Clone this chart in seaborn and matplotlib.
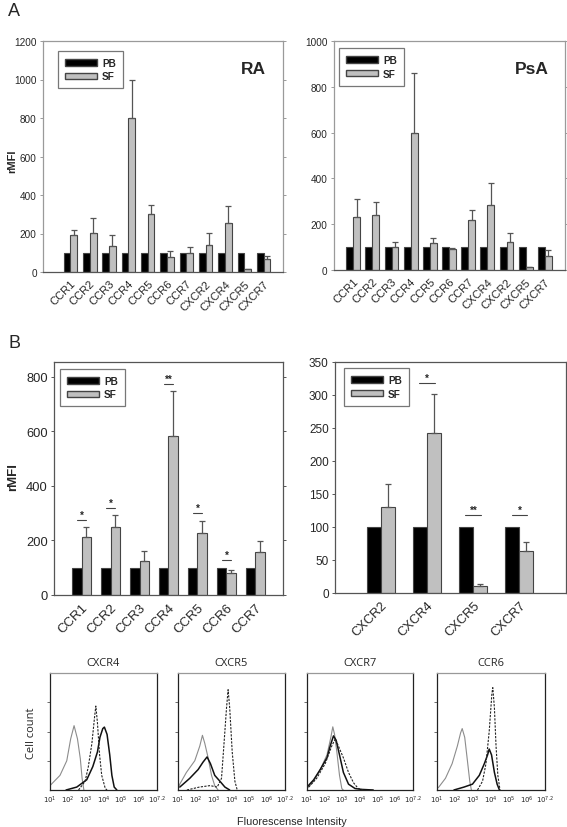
import numpy as np
import matplotlib.pyplot as plt
import pandas as pd
import seaborn as sns
from matplotlib.patches import Patch

sns.set_style('white')
plt.rcParams['font.family'] = ['Liberation Sans', 'DejaVu Sans']

# ---- panel A, RA ----
ra_names = ['CCR1', 'CCR2', 'CCR3', 'CCR4', 'CCR5', 'CCR6', 'CCR7', 'CXCR2', 'CXCR4', 'CXCR5', 'CXCR7']
ra_pb = [100] * 11
ra_sf = [192, 204, 135, 800, 303, 78, 99, 140, 253, 15, 66]
ra_sf_top = [218, 279, 192, 1000, 350, 107, 130, 203, 345, 17, 82]

# ---- panel A, PsA ----
psa_names = ['CCR1', 'CCR2', 'CCR3', 'CCR4', 'CCR5', 'CCR6', 'CCR7', 'CXCR4', 'CXCR2', 'CXCR5', 'CXCR7']
psa_pb = [100] * 11
psa_sf = [231, 241, 101, 600, 120, 92, 217, 285, 123, 12, 61]
psa_sf_top = [309, 296, 121, 860, 140, 98, 261, 380, 163, 14, 88]

# ---- panel B, CCR ----
ccr_names = ['CCR1', 'CCR2', 'CCR3', 'CCR4', 'CCR5', 'CCR6', 'CCR7']
ccr_pb = [100] * 7
ccr_sf = [211, 248, 124, 582, 226, 81, 157]
ccr_sf_top = [248, 292, 161, 750, 270, 93, 199]
ccr_sig = ['*', '*', '', '**', '*', '*', '']
ccr_sig_y = [276, 321, 0, 776, 300, 130, 0]

# ---- panel B, CXCR ----
cxcr_names = ['CXCR2', 'CXCR4', 'CXCR5', 'CXCR7']
cxcr_pb = [100] * 4
cxcr_sf = [131, 243, 11, 64]
cxcr_sf_top = [165, 301, 14, 77]
cxcr_sig = ['', '*', '**', '*']
cxcr_sig_y = [0, 318, 118, 118]

# ---- histograms (x = log10 intensity, y = cell count units) ----
hist_titles = ['CXCR4', 'CXCR5', 'CXCR7', 'CCR6']
gray_x = [[1.0, 1.56, 1.94, 2.16, 2.35, 2.54, 2.7, 2.8, 2.9],
          [1.0, 1.1, 1.47, 1.94, 2.22, 2.37, 2.5, 2.69, 2.88, 3.06, 3.25],
          [1.0, 1.38, 1.75, 2.13, 2.35, 2.46, 2.56, 2.69, 2.84, 2.97, 3.05],
          [1.0, 1.1, 1.47, 1.84, 2.13, 2.31, 2.4, 2.54, 2.69, 2.82, 2.91]]
gray_y = [[0.15, 0.5, 1.0, 1.75, 2.2, 1.75, 1.07, 0.4, 0.0],
          [0.05, 0.2, 0.6, 1.0, 1.5, 1.87, 1.6, 1.1, 0.5, 0.15, 0.0],
          [0.05, 0.3, 0.7, 1.2, 1.8, 2.16, 1.9, 1.3, 0.5, 0.05, 0.0],
          [0.05, 0.1, 0.4, 0.9, 1.5, 1.95, 2.1, 1.8, 1.0, 0.3, 0.0]]
dash_x = [[2.6, 2.97, 3.15, 3.35, 3.5, 3.57, 3.66, 3.78, 3.9, 4.1, 4.2],
          [1.5, 2.2, 2.8, 3.2, 3.44, 3.57, 3.72, 3.81, 3.9, 4.04, 4.19, 4.32],
          [1.1, 1.55, 2.03, 2.4, 2.6, 2.78, 3.06, 3.35, 3.63, 3.9, 4.2],
          [3.25, 3.53, 3.72, 3.9, 4.05, 4.1, 4.19, 4.28, 4.38, 4.5]]
dash_y = [[0.0, 0.3, 0.8, 1.6, 2.5, 2.87, 2.3, 1.2, 0.5, 0.05, 0.0],
          [0.0, 0.1, 0.15, 0.1, 0.4, 1.5, 2.8, 3.43, 2.8, 1.3, 0.3, 0.0],
          [0.1, 0.4, 0.9, 1.5, 1.75, 1.5, 1.1, 0.6, 0.25, 0.05, 0.0],
          [0.0, 0.3, 0.9, 2.0, 3.3, 3.5, 2.8, 1.5, 0.5, 0.0]]
black_x = [[1.9, 2.5, 3.06, 3.4, 3.66, 3.8, 3.96, 4.05, 4.2, 4.35, 4.47, 4.6, 4.75],
           [1.1, 1.66, 2.13, 2.4, 2.63, 2.82, 3.06, 3.35, 3.63, 3.9],
           [1.0, 1.38, 1.75, 2.13, 2.31, 2.5, 2.65, 2.84, 3.06, 3.35, 3.72, 4.1, 4.75],
           [1.94, 2.5, 2.97, 3.35, 3.63, 3.81, 3.9, 4.03, 4.19, 4.34, 4.47]]
black_y = [[0.0, 0.1, 0.35, 0.8, 1.3, 1.8, 2.1, 2.15, 1.9, 1.2, 0.5, 0.1, 0.0],
           [0.1, 0.4, 0.7, 0.95, 1.13, 0.9, 0.5, 0.3, 0.1, 0.0],
           [0.1, 0.35, 0.7, 1.1, 1.5, 1.85, 1.7, 1.2, 0.6, 0.2, 0.05, 0.02, 0.0],
           [0.0, 0.1, 0.2, 0.5, 0.9, 1.2, 1.4, 1.2, 0.6, 0.2, 0.0]]
hist_ticks = [1, 2, 3, 4, 5, 6, 7]
hist_ticklabels = ['$10^1$', '$10^2$', '$10^3$', '$10^4$', '$10^5$', '$10^6$', '$10^{7.2}$']

PB_COLOR = 'black'
SF_COLOR = '#c0c0c0'


def bar_panel(ax, names, pb, sf, sf_top, width, spine_color, tick_size, xlab_size):
    n = len(names)
    df = pd.DataFrame({'receptor': names * 2,
                       'group': ['PB'] * n + ['SF'] * n,
                       'rMFI': pb + sf})
    sns.barplot(data=df, x='receptor', y='rMFI', hue='group', order=names,
                hue_order=['PB', 'SF'], palette={'PB': PB_COLOR, 'SF': SF_COLOR},
                width=width, errorbar=None, edgecolor='#444444', linewidth=0.8,
                saturation=1, legend=False, ax=ax)
    sf_bars = ax.containers[1]
    xs = [b.get_x() + b.get_width() / 2 for b in sf_bars]
    err = np.array(sf_top) - np.array(sf)
    ax.errorbar(xs, sf, yerr=[np.zeros(n), err], fmt='none', ecolor='#555555',
                elinewidth=0.9, capsize=2.3, capthick=0.9)
    for s in ax.spines.values():
        s.set_color(spine_color)
        s.set_linewidth(0.9)
    ax.set_xlabel('')
    ax.set_ylabel('')
    ax.tick_params(axis='y', left=True, right=True, length=2.5, width=0.7,
                   color=spine_color, labelsize=tick_size, pad=2)
    ax.tick_params(axis='x', bottom=False, labelsize=xlab_size, pad=1)
    plt.setp(ax.get_xticklabels(), rotation=45, ha='right', rotation_mode='anchor')
    leg = ax.legend(handles=[Patch(facecolor=PB_COLOR, edgecolor='#444444'),
                             Patch(facecolor=SF_COLOR, edgecolor='#444444')],
                    labels=['PB', 'SF'], frameon=True, fancybox=False,
                    edgecolor='#555555', handlelength=3.2, handleheight=0.6,
                    prop={'weight': 'bold', 'size': 7.2}, borderpad=0.7,
                    labelspacing=0.35, handletextpad=0.5, loc='upper left',
                    borderaxespad=0)
    leg.get_frame().set_linewidth(0.9)
    return leg


def sig_marks(ax, sig, sig_y, size):
    for i, (s, y) in enumerate(zip(sig, sig_y)):
        if s:
            ax.plot([i - 0.17, i + 0.17], [y, y], color='#444444', lw=0.8)
            ax.text(i, y, s, ha='center', va='bottom', fontsize=size, fontweight='bold')


fig = plt.figure(figsize=(5.67, 8.28), dpi=100)
W, H = 567, 828


def px_axes(x0, y0, x1, y1):
    return fig.add_axes([x0 / W, 1 - y1 / H, (x1 - x0) / W, (y1 - y0) / H])


# A - RA
ax1 = px_axes(43, 42, 283, 273)
leg = bar_panel(ax1, ra_names, ra_pb, ra_sf, ra_sf_top, 0.7, '#9a9a9a', 7.2, 8.0)
leg.set_bbox_to_anchor((0.0625, 0.957))
ax1.set_xlim(-1.42, 11.0)
ax1.set_ylim(0, 1200)
ax1.set_yticks(range(0, 1201, 200))
ax1.spines['bottom'].set_color('#555555')
ax1.text(0.93, 0.88, 'RA', transform=ax1.transAxes, ha='right', va='center',
         fontsize=12.5, fontweight='bold')

# A - PsA
ax2 = px_axes(334, 42, 565, 271)
leg = bar_panel(ax2, psa_names, psa_pb, psa_sf, psa_sf_top, 0.72, '#9a9a9a', 7.2, 8.0)
leg.set_bbox_to_anchor((0.022, 0.969))
ax2.set_xlim(-1.0, 11.05)
ax2.set_ylim(0, 1000)
ax2.set_yticks(range(0, 1001, 200))
ax2.spines['bottom'].set_color('#555555')
ax2.text(0.93, 0.88, 'PsA', transform=ax2.transAxes, ha='right', va='center',
         fontsize=12.5, fontweight='bold')

# B - CCR
ax3 = px_axes(54, 363, 283, 596)
leg = bar_panel(ax3, ccr_names, ccr_pb, ccr_sf, ccr_sf_top, 0.66, '#555555', 9.3, 9.5)
leg.set_bbox_to_anchor((0.026, 0.97))
ax3.set_xlim(-0.95, 6.95)
ax3.set_ylim(0, 855)
ax3.set_yticks(range(0, 801, 200))
sig_marks(ax3, ccr_sig, ccr_sig_y, 7)

# B - CXCR
ax4 = px_axes(335, 363, 565.5, 594)
leg = bar_panel(ax4, cxcr_names, cxcr_pb, cxcr_sf, cxcr_sf_top, 0.61, '#555555', 8.5, 9.3)
leg.set_bbox_to_anchor((0.039, 0.974))
ax4.set_xlim(-1.0, 4.0)
ax4.set_ylim(0, 350)
ax4.set_yticks(range(0, 351, 50))
sig_marks(ax4, cxcr_sig, cxcr_sig_y, 7)

# histograms
hist_px = [(50, 157), (178, 285), (307, 413), (437, 545)]
minor = [np.log10(k) + d for d in range(1, 7) for k in range(2, 10)]
for i, (x0, x1) in enumerate(hist_px):
    ax = px_axes(x0, 674, x1, 791)
    sns.lineplot(x=gray_x[i], y=gray_y[i], color='#8c8c8c', lw=0.8, sort=False, ax=ax)
    sns.lineplot(x=black_x[i], y=black_y[i], color='#111111', lw=1.1, sort=False, ax=ax)
    sns.lineplot(x=dash_x[i], y=dash_y[i], color='#222222', lw=0.8, ls=(0, (2, 1.2)),
                 sort=False, ax=ax)
    ax.set_xlim(1, 7)
    ax.set_ylim(0, 4)
    ax.set_xticks(hist_ticks)
    ax.set_xticklabels(hist_ticklabels, fontsize=5.0, family='DejaVu Serif')
    ax.set_xticks(minor, minor=True)
    ax.set_yticks([1, 2, 3])
    ax.set_yticklabels([])
    ax.tick_params(axis='x', which='both', direction='in', length=2, width=0.6, pad=3,
                   color='#333333')
    ax.tick_params(axis='y', left=True, direction='out', length=2, width=0.6,
                   color='#555555')
    for s in ax.spines.values():
        s.set_color('#222222')
        s.set_linewidth(0.9)
    ax.spines['top'].set_color('#999999')
    ax.set_xlabel('')
    ax.set_ylabel('')
    ax.set_title(hist_titles[i], fontsize=8, family='Open Sans', pad=6)

fig.text(8 / W, 1 - 12 / H, 'A', fontsize=13, ha='left', va='center')
fig.text(8 / W, 1 - 343 / H, 'B', fontsize=13, ha='left', va='center')
fig.text(12 / W, 1 - 161 / H, 'rMFI', rotation=90, fontsize=8, fontweight='bold',
         ha='center', va='center')
fig.text(13 / W, 1 - 477 / H, 'rMFI', rotation=90, fontsize=9.5, fontweight='bold',
         ha='center', va='center')
fig.text(32 / W, 1 - 733 / H, 'Cell count', rotation=90, fontsize=8, family='Open Sans',
         ha='center', va='center')
fig.text(292 / W, 1 - 822 / H, 'Fluorescense Intensity', fontsize=7.8,
         ha='center', va='center')

fig.savefig('out.png', dpi=100)
